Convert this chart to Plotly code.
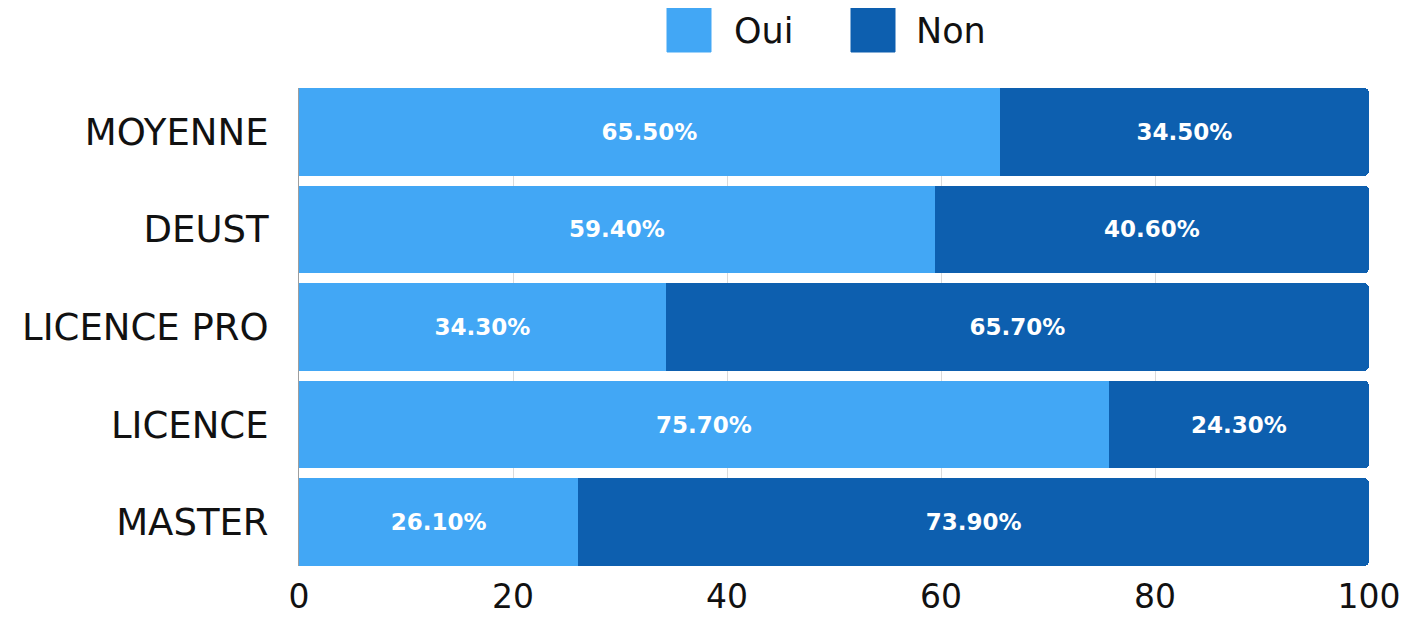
import plotly.graph_objects as go

categories = ["MOYENNE", "DEUST", "LICENCE PRO", "LICENCE", "MASTER"]
oui = [65.5, 59.4, 34.3, 75.7, 26.1]
non = [34.5, 40.6, 65.7, 24.3, 73.9]
series_names = ["Oui", "Non"]
colors = ["#42A7F5", "#0D5FAF"]
x_ticks = [0, 20, 40, 60, 80, 100]

FONT = "DejaVu Sans"

# figure geometry (page has an 8px body margin)
W, H = 1409, 610
L, R, T, B = 291, 48, 80, 52
PW, PH = W - L - R, H - T - B

fig = go.Figure()
for name, vals, col in zip(series_names, [oui, non], colors):
    fig.add_trace(go.Bar(
        y=categories, x=vals, name=name, orientation="h",
        marker=dict(color=col, line=dict(width=0)),
        texttemplate="%{x:.2f}%", textposition="inside",
        insidetextanchor="middle",
        textfont=dict(family=FONT, size=23, color="white", weight="bold"),
        showlegend=False,
    ))

n = len(categories)
fig.update_layout(
    width=W, height=H,
    margin=dict(l=L, r=R, t=T, b=B, autoexpand=False),
    plot_bgcolor="white", paper_bgcolor="white",
    barmode="stack", bargap=0.1, barcornerradius=5,
    font=dict(family=FONT, color="#111111", size=34),
    xaxis=dict(range=[0, 100], tickvals=x_ticks, showgrid=True,
               gridcolor="#DADADA", gridwidth=1, zeroline=False,
               showline=False, ticks="", ticklabelstandoff=8,
               tickfont=dict(size=33)),
    yaxis=dict(categoryorder="array", categoryarray=categories,
               range=[n - 1 + 0.45, -0.45], showgrid=False, showline=True,
               linecolor="#9E9E9E", linewidth=1, ticks="",
               ticklabelstandoff=22, tickfont=dict(size=37)),
    uniformtext=dict(mode=False),
)

# legend drawn as layout shapes + annotations (large swatches as in reference)
sq = 44
swatch_x = [659, 843]
text_x = [724, 906]
for i, (name, col) in enumerate(zip(series_names, colors)):
    fig.add_shape(type="rect", xref="paper", yref="paper",
                  x0=(swatch_x[i] - L) / PW, x1=(swatch_x[i] + sq - L) / PW,
                  y0=(T + PH - sq) / PH, y1=(T + PH) / PH,
                  line=dict(width=1, color=col), fillcolor=col, layer="above")
    fig.add_annotation(xref="paper", yref="paper",
                       x=(text_x[i] - L) / PW, y=(T + PH - 23) / PH,
                       text=name, showarrow=False, xanchor="left", yanchor="middle",
                       font=dict(family=FONT, size=35, color="#111111"))

fig.write_html("out.html")
